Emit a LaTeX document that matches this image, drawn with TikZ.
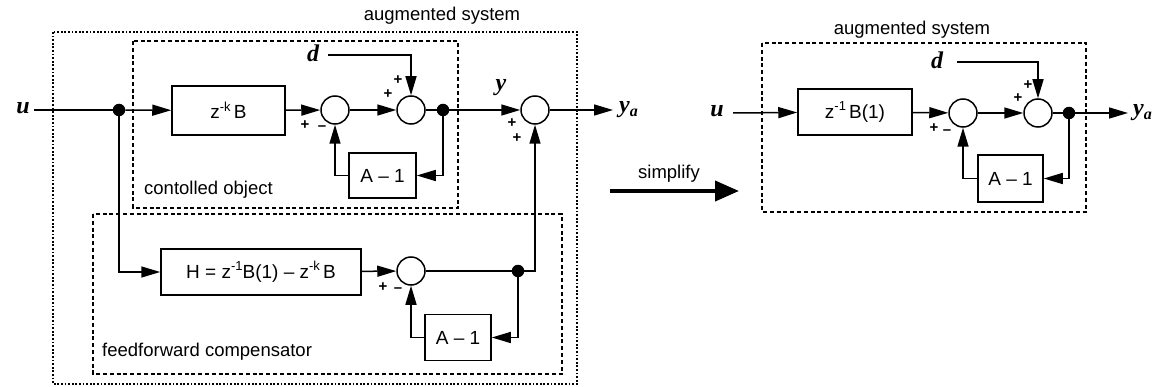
\documentclass[tikz,border=0pt]{standalone}
\usepackage{fontspec}
\setmainfont{Liberation Sans}
\newfontfamily\serifit{Liberation Serif}
\usetikzlibrary{arrows.meta}
\newcommand{\mysup}[1]{\raisebox{7.5pt}{\fontsize{13}{13}\selectfont #1}}
\tikzset{
  blk/.style={draw, line width=1.5pt, minimum height=46pt, inner sep=0pt, font=\fontsize{19}{20}\selectfont},
  sumc/.style={draw, circle, line width=1.5pt, minimum size=28pt, inner sep=0pt},
  dotn/.style={fill, circle, minimum size=12.5pt, inner sep=0pt},
  conn/.style={line width=1.5pt},
  arr/.style={conn, -{Triangle[length=19pt,width=11pt]}},
  sig/.style={font=\fontsize{15}{15}\bfseries\selectfont, inner sep=0pt},
  var/.style={font=\fontsize{24}{24}\serifit\bfseries\itshape, inner sep=1pt},
  lbl/.style={font=\fontsize{18.5}{20}\selectfont, inner sep=0pt},
  dotbox/.style={line width=1.3pt, dash pattern=on 1.8pt off 1.8pt},
  dashbox/.style={line width=1.3pt, dash pattern=on 4pt off 2.8pt}
}
\begin{document}
\begin{tikzpicture}[x=1pt,y=-1pt]
\useasboundingbox (0,0) rectangle (1161,387);
% ---------- left diagram ----------
\draw[dotbox] (53,32) rectangle (577,384);
\draw[dashbox] (133,41) rectangle (458,208);
\draw[dashbox] (93,214) rectangle (562,374);
\node[lbl] (augL) at (442,16) {augmented system};
\node[lbl, anchor=west] (colbl) at (144,190) {contolled object};
\node[lbl, anchor=west] (fflbl) at (102,352) {feedforward compensator};

\node[var] (u) at (23,108) {u};
\coordinate (ustart) at (34,110);
\node[dotn] (d1) at (119,110) {};
\node[blk, minimum width=113pt, minimum height=49pt] (zkB) at (228.5,110.5) {z\mysup{-k}\,B};
\node[sumc] (s1) at (335,110) {};
\node[sumc] (s2) at (411,110) {};
\node[dotn] (d2) at (443,110) {};
\node[blk, minimum width=67pt, minimum height=45pt] (A1a) at (382.5,175.5) {A – 1};
\node[var] (dL) at (313,53) {d};
\coordinate (dstart) at (328,55);
\node[var] (yL) at (501,88) {y};
\node[sumc] (s3) at (535,110) {};
\coordinate (yaend) at (613,110);
\node[var, anchor=west] (yaL) at (618,110) {y\textsubscript{\fontsize{16}{16}\selectfont\serifit\bfseries\itshape a}};

\node[blk, minimum width=200pt] (H) at (261,272) {H = z\mysup{-1}B(1) – z\mysup{-k}\,B};
\node[sumc] (s4) at (411,271) {};
\node[dotn] (d3) at (518,271) {};
\node[blk, minimum width=66pt] (A1b) at (458,337.5) {A – 1};

\draw[conn] (ustart) -- (d1);
\draw[arr] (d1) -- (zkB);
\draw[arr] (zkB) -- (s1);
\draw[arr] (s1) -- (s2);
\draw[conn] (s2) -- (d2);
\draw[arr] (d2) |- (A1a.east);
\draw[arr] (A1a.west) -| (s1.south);
\draw[arr] (dstart) -| (s2.north);
\draw[arr] (d2) -- (s3);
\draw[arr] (s3) -- (yaend);
\draw[arr] (d1) |- (H.west);
\draw[arr] (H) -- (s4);
\draw[conn] (s4) -- (d3);
\draw[arr] (d3) |- (A1b.east);
\draw[arr] (A1b.west) -| (s4.south);
\draw[arr] (d3) -| (s3.south);

\node[sig] at (305,125) {+};
\node[sig] at (322,128) {–};
\node[sig] at (398,80) {+};
\node[sig] at (388,94) {+};
\node[sig] at (512,123) {+};
\node[sig] at (517,138) {+};
\node[sig] at (383,287) {+};
\node[sig] at (398,290) {–};

% ---------- simplify arrow ----------
\node[lbl] (simp) at (669,174) {simplify};
\coordinate (sa) at (610,191);
\coordinate (sb) at (739,191);
\draw[line width=4pt, -{Triangle[length=24pt,width=20pt]}] (sa) -- (sb);

% ---------- right diagram ----------
\draw[dashbox] (762,43) rectangle (1086,212);
\node[lbl] (augR) at (912,30) {augmented system};
\node[var] (uR) at (717,111) {u};
\coordinate (uRs) at (733,113);
\node[blk, minimum width=114pt] (zB1) at (855,112) {z\mysup{-1}\,B(1)};
\node[sumc] (r1) at (963,113) {};
\node[sumc] (r2) at (1038,113) {};
\node[dotn] (rd) at (1069,113) {};
\coordinate (yaRend) at (1128,113);
\node[var, anchor=west] (yaR) at (1132,113) {y\textsubscript{\fontsize{16}{16}\selectfont\serifit\bfseries\itshape a}};
\node[var] (dR) at (937,60) {d};
\coordinate (dRs) at (957,62);
\node[blk, minimum width=65pt, minimum height=47pt] (A1R) at (1010.5,178.5) {A – 1};

\draw[arr] (uRs) -- (zB1);
\draw[arr] (zB1) -- (r1);
\draw[arr] (r1) -- (r2);
\draw[conn] (r2) -- (rd);
\draw[arr] (rd) -- (yaRend);
\draw[arr] (rd) |- (A1R.east);
\draw[arr] (A1R.west) -| (r1.south);
\draw[arr] (dRs) -| (r2.north);

\node[sig] at (1028,85) {+};
\node[sig] at (1018,98) {+};
\node[sig] at (934,128) {+};
\node[sig] at (947,132) {–};
\end{tikzpicture}
\end{document}
